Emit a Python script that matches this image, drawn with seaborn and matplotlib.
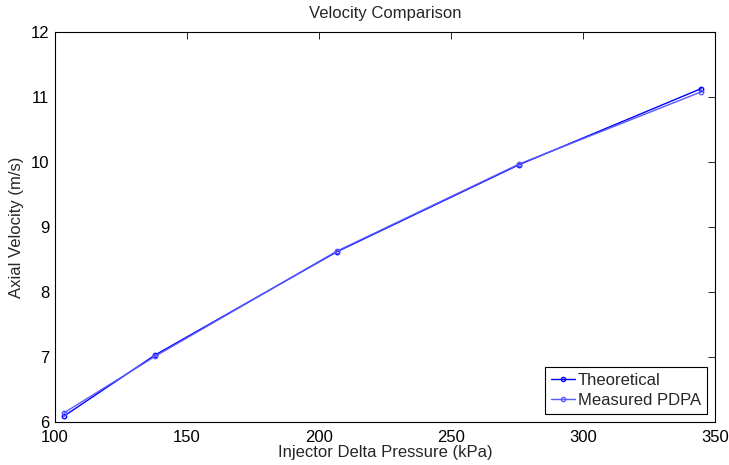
import matplotlib
matplotlib.use("Agg")
import matplotlib.pyplot as plt
import seaborn as sns
import pandas as pd

pressure_kpa = [103.4, 137.9, 206.8, 275.8, 344.7]
theoretical = [6.09, 7.03, 8.62, 9.96, 11.13]
measured = [6.14, 7.01, 8.63, 9.97, 11.08]
series_names = ["Theoretical", "Measured PDPA"]

df = pd.DataFrame({
    "Pressure": pressure_kpa * 2,
    "Velocity": theoretical + measured,
    "Series": [series_names[0]] * len(pressure_kpa) + [series_names[1]] * len(pressure_kpa),
})

sns.set_style("white")
plt.rcParams["font.family"] = ["Liberation Sans", "DejaVu Sans"]
plt.rcParams["font.size"] = 12

fig = plt.figure(figsize=(7.29, 4.65), dpi=100)
ax = fig.add_axes([0.0754, 0.0925, 0.9056, 0.8385])

colors = {series_names[0]: "#0000ff", series_names[1]: "#5a5aff"}
sns.lineplot(data=df, x="Pressure", y="Velocity", hue="Series", palette=colors,
             marker="o", markersize=3.2, linewidth=1.0, ax=ax, sort=False,
             estimator=None)

for ln in ax.lines:
    c = ln.get_color()
    ln.set_markeredgecolor(c)
    ln.set_markerfacecolor("none")
    ln.set_markeredgewidth(1.0)

ax.set_xlim(100, 350)
ax.set_ylim(6, 12)
ax.set_xticks([100, 150, 200, 250, 300, 350])
ax.set_yticks([6, 7, 8, 9, 10, 11, 12])
ax.tick_params(direction="in", top=True, right=True, length=5, width=0.6,
               labelsize=12, colors="black")
ax.tick_params(axis="x", pad=6)
ax.tick_params(axis="y", pad=4)
for s in ax.spines.values():
    s.set_color("black")
    s.set_linewidth(0.8)

ax.set_xlabel("Injector Delta Pressure (kPa)", fontsize=12, labelpad=0)
ax.set_ylabel("Axial Velocity (m/s)", fontsize=12, labelpad=12)
ax.set_title("Velocity Comparison", fontsize=12, pad=10)
ax.yaxis.set_label_coords(-0.047, 0.5)

leg = ax.legend(loc="lower right", frameon=True, fancybox=False, fontsize=12,
                handlelength=1.4, handletextpad=0.2, borderpad=0.35,
                labelspacing=0.3, borderaxespad=0.5)
leg.get_frame().set_edgecolor("black")
leg.get_frame().set_linewidth(0.8)
leg.get_frame().set_alpha(1)
for h in leg.get_lines():
    c = h.get_color()
    h.set_markeredgecolor(c)
    h.set_markerfacecolor("none")
    h.set_markeredgewidth(1.0)
    h.set_marker("o")
    h.set_markersize(3)

fig.savefig("out.png", dpi=100)
